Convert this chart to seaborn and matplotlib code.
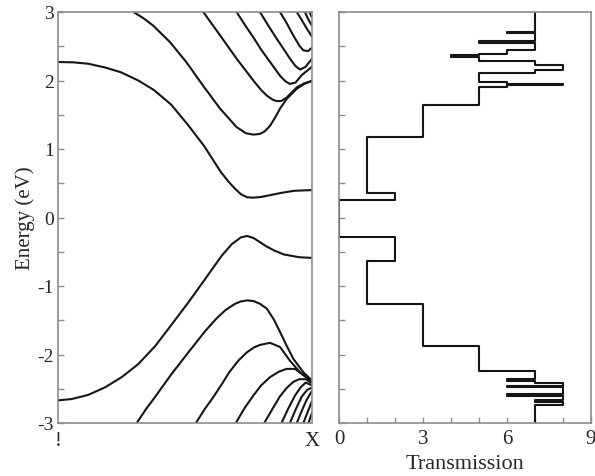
import numpy as np
import pandas as pd
import matplotlib
matplotlib.use("Agg")
import matplotlib.pyplot as plt
from matplotlib.ticker import MultipleLocator
import seaborn as sns

# ---------------- data ----------------
# band structure: k from Gamma (0) to X (1), energies in eV
k_c1 = [0.0, 0.06, 0.119, 0.185, 0.248, 0.316, 0.378, 0.445, 0.51, 0.576, 0.64, 0.672, 0.697, 0.72, 0.745, 0.77, 0.80, 0.84, 0.88, 0.93, 1.0]
e_c1 = [2.27, 2.265, 2.245, 2.19, 2.12, 2.00, 1.86, 1.65, 1.36, 1.04, 0.67, 0.52, 0.42, 0.34, 0.295, 0.29, 0.30, 0.33, 0.36, 0.39, 0.40]

k_v1 = [0.0, 0.054, 0.119, 0.185, 0.251, 0.316, 0.382, 0.448, 0.513, 0.579, 0.644, 0.684, 0.72, 0.745, 0.77, 0.795, 0.82, 0.85, 0.89, 0.95, 1.0]
e_v1 = [-2.67, -2.65, -2.59, -2.48, -2.33, -2.14, -1.88, -1.56, -1.24, -0.90, -0.56, -0.39, -0.29, -0.27, -0.30, -0.36, -0.42, -0.48, -0.54, -0.58, -0.59]

k_c2 = [0.297, 0.336, 0.375, 0.441, 0.507, 0.572, 0.638, 0.703, 0.74, 0.769, 0.795, 0.815, 0.835, 0.855, 0.874, 0.90, 0.94, 0.97, 1.0]
e_c2 = [3.0, 2.91, 2.80, 2.56, 2.26, 1.92, 1.59, 1.32, 1.23, 1.21, 1.22, 1.26, 1.34, 1.46, 1.59, 1.73, 1.88, 1.95, 2.0]

k_c3 = [0.572, 0.605, 0.638, 0.703, 0.769, 0.80, 0.822, 0.845, 0.861, 0.878, 0.90, 0.94, 0.97, 1.0]
e_c3 = [3.0, 2.83, 2.66, 2.32, 2.0, 1.86, 1.78, 1.72, 1.70, 1.70, 1.75, 1.90, 1.96, 1.99]

k_c4 = [0.703, 0.736, 0.769, 0.80, 0.835, 0.874, 0.895, 0.913, 0.935, 0.96, 1.0]
e_c4 = [3.0, 2.81, 2.63, 2.45, 2.27, 2.07, 1.99, 1.95, 1.97, 2.08, 2.20]

k_c5 = [0.795, 0.83, 0.861, 0.89, 0.913, 0.935, 0.953, 0.975, 1.0]
e_c5 = [3.0, 2.79, 2.61, 2.45, 2.32, 2.21, 2.16, 2.20, 2.32]

k_c6 = [0.874, 0.90, 0.926, 0.95, 0.966, 0.985, 1.0]
e_c6 = [3.0, 2.84, 2.66, 2.51, 2.44, 2.43, 2.48]

k_c7 = [0.94, 0.96, 0.979, 1.0]
e_c7 = [3.0, 2.88, 2.76, 2.64]

k_c8 = [0.972, 0.987, 1.0]
e_c8 = [3.0, 2.88, 2.80]

k_c9 = [0.99, 1.0]
e_c9 = [3.0, 2.92]

k_v2 = [0.31, 0.346, 0.382, 0.448, 0.513, 0.579, 0.625, 0.66, 0.697, 0.72, 0.745, 0.77, 0.795, 0.822, 0.85, 0.874, 0.90, 0.926, 0.966, 1.0]
e_v2 = [-3.0, -2.80, -2.62, -2.28, -1.97, -1.66, -1.47, -1.35, -1.26, -1.225, -1.21, -1.22, -1.26, -1.33, -1.49, -1.67, -1.87, -2.06, -2.26, -2.38]

k_v3 = [0.543, 0.577, 0.608, 0.642, 0.674, 0.71, 0.743, 0.77, 0.795, 0.835, 0.874, 0.913, 0.953, 1.0]
e_v3 = [-3.0, -2.80, -2.64, -2.45, -2.26, -2.09, -1.97, -1.90, -1.86, -1.83, -1.89, -2.09, -2.26, -2.40]

k_v4 = [0.70, 0.735, 0.769, 0.80, 0.835, 0.87, 0.90, 0.933, 0.966, 1.0]
e_v4 = [-3.0, -2.78, -2.60, -2.45, -2.33, -2.25, -2.21, -2.21, -2.30, -2.40]

k_v5 = [0.812, 0.845, 0.874, 0.90, 0.926, 0.95, 0.975, 1.0]
e_v5 = [-3.0, -2.79, -2.61, -2.49, -2.40, -2.36, -2.36, -2.42]

k_v6 = [0.88, 0.905, 0.933, 0.955, 0.975, 1.0]
e_v6 = [-3.0, -2.80, -2.60, -2.48, -2.41, -2.45]

k_v7 = [0.913, 0.936, 0.959, 0.98, 1.0]
e_v7 = [-3.0, -2.80, -2.62, -2.52, -2.48]

k_v8 = [0.94, 0.96, 0.979, 1.0]
e_v8 = [-3.0, -2.82, -2.66, -2.53]

k_v9 = [0.966, 0.984, 1.0]
e_v9 = [-3.0, -2.83, -2.68]

k_v10 = [0.986, 1.0]
e_v10 = [-3.0, -2.85]

# transmission: energy edges and the transmission value between consecutive edges
trans_E = [-3.0, -2.73, -2.70, -2.66, -2.60, -2.58, -2.48, -2.46, -2.41, -2.38, -2.36, -2.24,
           -1.87, -1.26, -0.64, -0.29, 0.25, 0.36, 1.17, 1.64, 1.90, 1.93, 1.95, 1.98,
           2.11, 2.15, 2.22, 2.28, 2.34, 2.37, 2.39, 2.44, 2.55, 2.57, 2.69, 2.71, 3.0]
trans_T = [7, 8, 7, 8, 6, 8, 6, 8, 7, 6, 7,
           5, 3, 1, 2, 0, 2, 1, 3, 5,
           6, 8, 6, 5, 7, 8, 7, 5, 4, 5, 6, 7, 5, 7, 6, 7]

energy_ticks = [-3, -2, -1, 0, 1, 2, 3]
energy_labels = ["-3", "-2", "-1", "0", "1", "2", "3"]
k_ticks = [0, 1]
k_labels = ["!", "X"]
trans_ticks = [0, 3, 6, 9]
trans_labels = ["0", "3", "6", "9"]

# ---------------- styling ----------------
sns.set_style("white")
plt.rcParams["font.family"] = ["Liberation Serif", "DejaVu Serif"]
plt.rcParams["axes.unicode_minus"] = False

line_col = "#151515"
spine_col = "#8c8c8c"

fig = plt.figure(figsize=(5.95, 4.77), dpi=100)
ax1 = fig.add_axes([58 / 595, 53 / 477, 254 / 595, 411 / 477])
ax2 = fig.add_axes([339 / 595, 53 / 477, 252 / 595, 411 / 477])

# band lines
bands = {
    "c1": (k_c1, e_c1), "c2": (k_c2, e_c2), "c3": (k_c3, e_c3), "c4": (k_c4, e_c4),
    "c5": (k_c5, e_c5), "c6": (k_c6, e_c6), "c7": (k_c7, e_c7), "c8": (k_c8, e_c8),
    "c9": (k_c9, e_c9),
    "v1": (k_v1, e_v1), "v2": (k_v2, e_v2), "v3": (k_v3, e_v3), "v4": (k_v4, e_v4),
    "v5": (k_v5, e_v5), "v6": (k_v6, e_v6), "v7": (k_v7, e_v7), "v8": (k_v8, e_v8),
    "v9": (k_v9, e_v9), "v10": (k_v10, e_v10),
}
rows = []
for name, (ks, es) in bands.items():
    for kk, ee in zip(ks, es):
        rows.append({"band": name, "k": kk, "E": ee})
df_bands = pd.DataFrame(rows)

sns.lineplot(data=df_bands, x="k", y="E", units="band", estimator=None, sort=False,
             color=line_col, linewidth=1.5, ax=ax1, legend=False)
for ln in ax1.get_lines():
    ln.set_solid_joinstyle("round")

# transmission step curve
tx, ty = [], []
for i, t in enumerate(trans_T):
    tx += [t, t]
    ty += [trans_E[i], trans_E[i + 1]]
df_trans = pd.DataFrame({"T": tx, "E": ty})
sns.lineplot(data=df_trans, x="T", y="E", estimator=None, sort=False,
             color=line_col, linewidth=1.5, ax=ax2, legend=False)

for ax in (ax1, ax2):
    ax.set_ylim(-3, 3)
    for sp in ax.spines.values():
        sp.set_color(spine_col)
        sp.set_linewidth(1.2)
    ax.set_yticks(energy_ticks)
    ax.yaxis.set_minor_locator(MultipleLocator(0.5))
    ax.tick_params(axis="y", which="both", direction="in", length=4, width=1,
                   color=spine_col, left=True, right=False)

ax1.set_xlim(0, 1)
ax1.set_yticklabels(energy_labels, fontsize=14)
ax1.tick_params(axis="y", which="major", pad=3)
ax1.set_xticks(k_ticks)
ax1.set_xticklabels(k_labels, fontsize=15)
ax1.tick_params(axis="x", which="both", length=0, pad=6)
ax1.set_xlabel("")
ax1.set_ylabel("Energy (eV)", fontsize=15, labelpad=2)

ax2.set_xlim(0, 9)
ax2.set_yticklabels([])
ax2.set_xticks(trans_ticks)
ax2.set_xticklabels(trans_labels, fontsize=15)
ax2.xaxis.set_minor_locator(MultipleLocator(1))
ax2.tick_params(axis="x", which="both", direction="in", length=4, width=1,
                color=spine_col, bottom=True, top=False, pad=4)
ax2.set_ylabel("")
ax2.set_xlabel("Transmission", fontsize=16, labelpad=5)

fig.savefig("out.png", dpi=100)
